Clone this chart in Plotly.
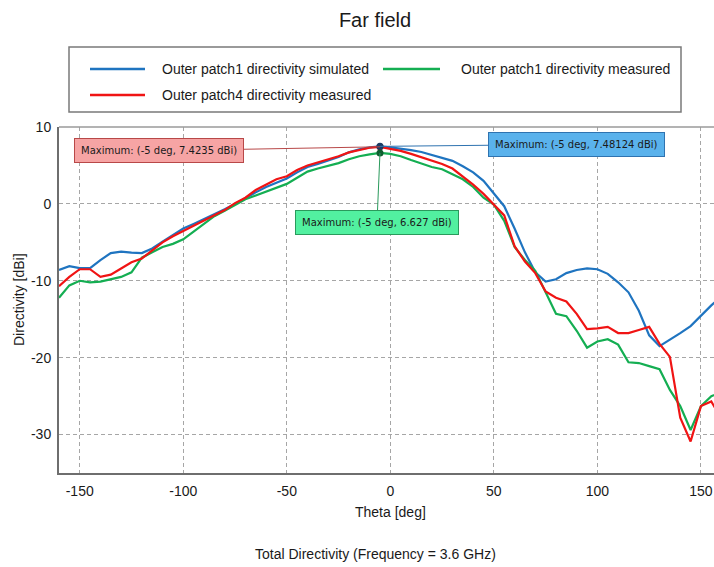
import plotly.graph_objects as go

# Far-field cut, theta in degrees (5 degree steps)
theta = list(range(-160, 165, 5))

# Directivity [dBi]
patch1_simulated = [
    -8.6, -8.1, -8.35, -8.35, -7.3, -6.4, -6.2, -6.35, -6.4, -5.8,
    -4.9, -4.0, -3.2, -2.6, -2.0, -1.4, -0.7, 0.0, 0.8, 1.5,
    2.2, 2.8, 3.3, 4.1, 4.8, 5.2, 5.6, 6.1, 6.7, 7.1,
    7.35, 7.48124, 7.35, 7.2, 7.0, 6.75, 6.4, 6.0, 5.6, 4.9,
    4.1, 3.0, 1.4, -0.3, -3.2, -6.3, -8.9, -10.1, -9.8, -9.0,
    -8.6, -8.4, -8.5, -9.1, -10.2, -11.5, -13.9, -17.1, -18.5, -17.7,
    -16.8, -15.9, -14.5, -13.2, -12.0,
]
patch1_measured = [
    -12.2, -10.6, -10.0, -10.2, -10.1, -9.8, -9.5, -8.9, -7.0, -6.3,
    -5.6, -5.2, -4.6, -3.6, -2.6, -1.6, -0.9, -0.1, 0.6, 1.1,
    1.6, 2.0, 2.6, 3.4, 4.2, 4.6, 4.95, 5.3, 5.8, 6.2,
    6.45, 6.627, 6.5, 6.2, 5.7, 5.2, 4.8, 4.5, 3.9, 3.2,
    2.2, 0.8, -0.1, -2.2, -5.6, -7.3, -8.7, -11.6, -14.3, -14.6,
    -16.5, -18.7, -17.9, -17.6, -18.3, -20.6, -20.7, -21.1, -21.5, -24.2,
    -26.3, -29.4, -26.3, -25.0, -24.5,
]
patch4_measured = [
    -10.7, -9.5, -8.5, -8.5, -9.5, -9.2, -8.4, -7.6, -7.1, -6.1,
    -5.0, -4.2, -3.5, -2.9, -2.2, -1.5, -0.8, 0.1, 0.8, 1.8,
    2.5, 3.2, 3.6, 4.4, 5.0, 5.4, 5.8, 6.2, 6.7, 7.0,
    7.3, 7.4235, 7.2, 6.9, 6.5, 6.1, 5.6, 5.2, 4.6, 3.6,
    2.5, 1.3, -0.1, -1.5, -5.5, -7.5, -9.0, -11.4, -12.2, -12.7,
    -14.3, -16.3, -16.2, -16.0, -16.8, -16.8, -16.4, -16.0, -18.2, -19.9,
    -27.8, -30.9, -26.3, -25.7, -28.0,
]

series_names = [
    "Outer patch1 directivity simulated",
    "Outer patch1 directivity measured",
    "Outer patch4 directivity measured",
]
series_values = [patch1_simulated, patch1_measured, patch4_measured]
series_colors = ["#1f74c0", "#14ae52", "#f01414"]

x_ticks = [-150, -100, -50, 0, 50, 100, 150]
y_ticks = [-30, -20, -10, 0, 10]

# Annotation styling for the maximum markers: (fill, border/leader, dot, box offset px)
max_styles = {
    "Outer patch4 directivity measured": ("#f6a4a4", "#b84848", "#8a1a1a", (-221, 4)),
    "Outer patch1 directivity simulated": ("#5ab2ec", "#2f73b0", "#1b3d66", (197, -2)),
    "Outer patch1 directivity measured": ("#52f0a0", "#2a9a5c", "#0e5e30", (-3, 70)),
}

W, H = 714, 567
L, R, T, B = 59, 0, 127, 94
plot_w, plot_h = W - L - R, H - T - B

fig = go.Figure()
for name, vals, col in zip(series_names, series_values, series_colors):
    fig.add_trace(go.Scatter(
        x=theta, y=vals, mode="lines", name=name,
        line=dict(color=col, width=2.2), showlegend=False,
    ))

FONT = "Liberation Sans, Arial, sans-serif"

# Maximum markers with labelled boxes (red drawn first so it sits underneath)
annotations = []
for name in ["Outer patch4 directivity measured",
             "Outer patch1 directivity measured",
             "Outer patch1 directivity simulated"]:
    vals = series_values[series_names.index(name)]
    i = max(range(len(vals)), key=lambda k: vals[k])
    fill, edge, dot, (ax, ay) = max_styles[name]
    fig.add_trace(go.Scatter(
        x=[theta[i]], y=[vals[i]], mode="markers", showlegend=False,
        marker=dict(color=dot, size=7), hoverinfo="skip",
    ))
    val_txt = f"{vals[i]:g}"
    annotations.append(dict(
        x=theta[i], y=vals[i], xref="x", yref="y",
        text=f"Maximum: ({theta[i]} deg, {val_txt} dBi)",
        showarrow=True, arrowhead=0, arrowwidth=1, arrowcolor=edge,
        ax=ax, ay=ay, standoff=0,
        bgcolor=fill, bordercolor=edge, borderwidth=1, borderpad=6,
        font=dict(family="DejaVu Sans, Verdana, sans-serif", size=10, color="#1a1a1a"),
    ))

def px_x(p):
    return (p - L) / plot_w

def px_y(p):
    return (H - B - p) / plot_h

# Boxed legend, two columns
shapes = [
    dict(type="rect", xref="paper", yref="paper",
         x0=px_x(69), x1=px_x(681), y0=px_y(112), y1=px_y(47),
         line=dict(color="#7a7a7a", width=1.5), fillcolor="white", layer="above"),
    # top frame of the plot area
    dict(type="line", xref="paper", yref="paper", x0=0, x1=1, y0=1, y1=1,
         line=dict(color="#9a9a9a", width=1.5)),
]
legend_slots = [(90, 145, 160, 69), (383, 440, 459, 69), (90, 145, 160, 95)]
for (lx0, lx1, tx, ty), name, col in zip(legend_slots, series_names, series_colors):
    shapes.append(dict(type="line", xref="paper", yref="paper",
                       x0=px_x(lx0), x1=px_x(lx1), y0=px_y(ty), y1=px_y(ty),
                       line=dict(color=col, width=2.5), layer="above"))
    annotations.append(dict(x=px_x(tx), y=px_y(ty), xref="paper", yref="paper",
                            text=name, showarrow=False, xanchor="left", yanchor="middle",
                            font=dict(family=FONT, size=14, color="#1a1a1a")))

# Axis titles and caption
annotations += [
    dict(x=0, y=px_y(512), xref="x", yref="paper", text="Theta [deg]",
         showarrow=False, xanchor="center", yanchor="middle",
         font=dict(family=FONT, size=14, color="#1a1a1a")),
    dict(x=px_x(19), y=0.5, xref="paper", yref="paper", text="Directivity [dBi]",
         textangle=-90, showarrow=False, xanchor="center", yanchor="middle",
         font=dict(family=FONT, size=14, color="#1a1a1a")),
    dict(x=px_x(375), y=px_y(554), xref="paper", yref="paper",
         text="Total Directivity (Frequency = 3.6 GHz)",
         showarrow=False, xanchor="center", yanchor="middle",
         font=dict(family=FONT, size=14, color="#1a1a1a")),
]

grid = dict(showgrid=True, gridcolor="#a6a6a6", gridwidth=1.2, griddash="4px,3px",
            zeroline=False, showline=True, linecolor="#6e6e6e", linewidth=2,
            ticks="", tickmode="array",
            tickfont=dict(family=FONT, size=14, color="#1a1a1a"))

fig.update_layout(
    width=W, height=H,
    margin=dict(l=L, r=R, t=T, b=B),
    paper_bgcolor="white", plot_bgcolor="white",
    title=dict(text="Far field", x=375 / W, y=1 - 20 / H,
               xanchor="center", yanchor="middle",
               font=dict(family=FONT, size=20, color="#1a1a1a")),
    xaxis=dict(range=[-160, 156.3], tickvals=x_ticks, ticklabelstandoff=4,
               ticktext=[str(v) for v in x_ticks], **grid),
    yaxis=dict(range=[-35, 10], tickvals=y_ticks, ticklabelstandoff=3,
               ticktext=[str(v) for v in y_ticks], **grid),
    shapes=shapes,
    annotations=annotations,
    showlegend=False,
)

fig.write_html("out.html")
